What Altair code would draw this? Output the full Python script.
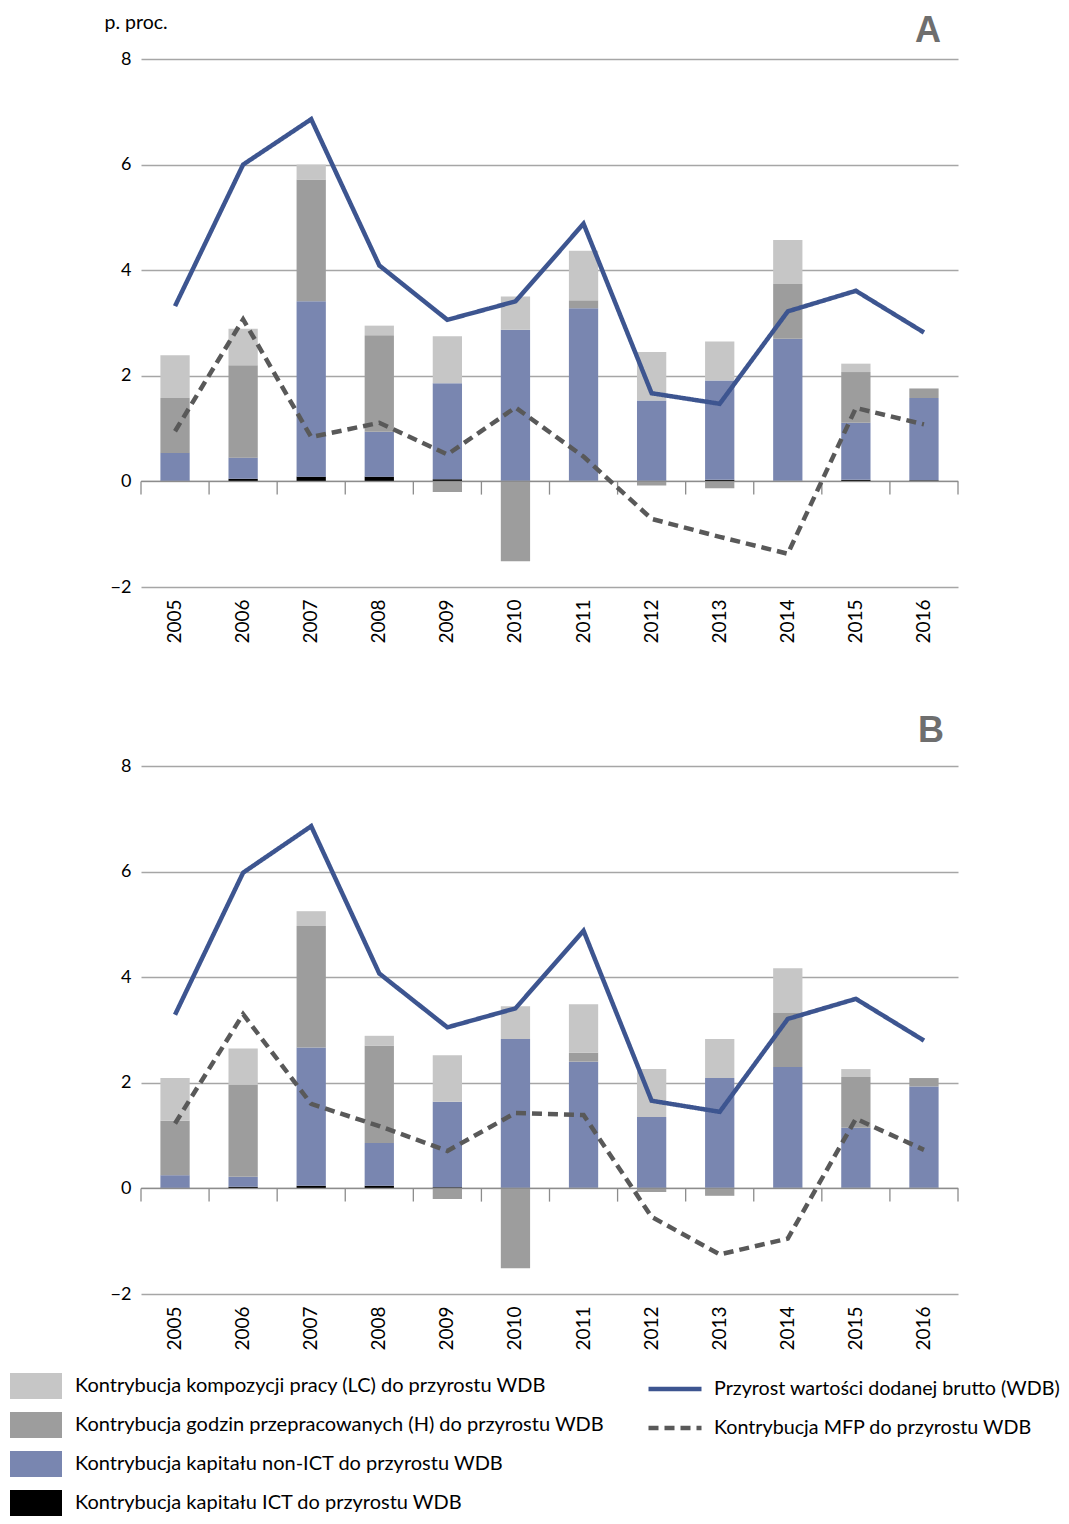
import altair as alt
import pandas as pd

years = [str(y) for y in range(2005, 2017)]
panel_labels = ["A", "B"]
unit_label = "p. proc."

bar_names = [
    "Kontrybucja kompozycji pracy (LC) do przyrostu WDB",
    "Kontrybucja godzin przepracowanych (H) do przyrostu WDB",
    "Kontrybucja kapitału non-ICT do przyrostu WDB",
    "Kontrybucja kapitału ICT do przyrostu WDB",
]
bar_colors = ["#c6c6c6", "#9d9d9d", "#7986b0", "#000000"]
line_names = [
    "Przyrost wartości dodanej brutto (WDB)",
    "Kontrybucja MFP do przyrostu WDB",
]
line_colors = ["#3d5590", "#595959"]

# Panel A
ict_A = [0.01, 0.05, 0.09, 0.09, 0.04, 0.01, 0.01, 0.01, 0.03, 0.01, 0.03, 0.02]
nonict_A = [0.53, 0.40, 3.32, 0.85, 1.82, 2.86, 3.27, 1.52, 1.88, 2.69, 1.08, 1.56]
h_A = [1.04, 1.75, 2.31, 1.83, -0.20, -1.51, 0.15, -0.08, -0.13, 1.04, 0.96, 0.18]
lc_A = [0.81, 0.69, 0.28, 0.18, 0.89, 0.63, 0.94, 0.92, 0.74, 0.83, 0.16, 0.00]
wdb_A = [3.32, 6.00, 6.86, 4.09, 3.06, 3.41, 4.88, 1.67, 1.47, 3.22, 3.61, 2.82]
mfp_A = [0.95, 3.07, 0.84, 1.11, 0.51, 1.40, 0.47, -0.71, -1.05, -1.37, 1.39, 1.08]

# Panel B
ict_B = [0.01, 0.03, 0.05, 0.05, 0.02, 0.01, 0.01, 0.01, 0.01, 0.01, 0.01, 0.01]
nonict_B = [0.24, 0.19, 2.62, 0.81, 1.62, 2.82, 2.39, 1.34, 2.08, 2.29, 1.14, 1.92]
h_B = [1.03, 1.75, 2.30, 1.84, -0.20, -1.51, 0.17, -0.07, -0.14, 1.02, 0.96, 0.16]
lc_B = [0.81, 0.68, 0.28, 0.19, 0.88, 0.62, 0.92, 0.91, 0.74, 0.85, 0.15, 0.00]
wdb_B = [3.29, 5.98, 6.86, 4.07, 3.05, 3.41, 4.88, 1.66, 1.45, 3.21, 3.59, 2.80]
mfp_B = [1.23, 3.30, 1.60, 1.18, 0.71, 1.43, 1.39, -0.54, -1.25, -0.95, 1.32, 0.73]

W = 817
H = 528
FONT = "Lato"


def bars_df(lc, h, nonict, ict):
    rows = []
    for i, y in enumerate(years):
        for ordv, (name, vals) in enumerate(
            [(bar_names[3], ict), (bar_names[2], nonict), (bar_names[1], h), (bar_names[0], lc)]
        ):
            rows.append({"year": y, "series": name, "value": vals[i], "ord": ordv})
    return pd.DataFrame(rows)


def lines_df(wdb, mfp):
    rows = []
    for i, y in enumerate(years):
        rows.append({"year": y, "series": line_names[0], "value": wdb[i]})
        rows.append({"year": y, "series": line_names[1], "value": mfp[i]})
    return pd.DataFrame(rows)


xscale = alt.Scale(domain=years, paddingInner=0, paddingOuter=0)
yscale = alt.Scale(domain=[-2, 8], nice=False)

line_legend = dict(
    title=None, orient="none", legendX=505, legendY=1301,
    symbolType="stroke", symbolSize=2809, symbolStrokeWidth=4.5,
    labelFontSize=19.7, labelFont=FONT, labelColor="#000000",
    labelOffset=10, rowPadding=-13, labelLimit=800,
)


def panel(label, bdf, ldf, first, label_dx, label_y):
    common = dict(
        values=[-2, 0, 2, 4, 6, 8], grid=True, domain=False, ticks=False,
        labelFontSize=18, labelPadding=10, labelColor="#000000", labelFont=FONT,
    )
    if first:
        yaxis = alt.Axis(
            title=unit_label, titleAngle=0, titleAlign="left", titleBaseline="middle",
            titleX=-37, titleY=-37, titleFontSize=19.5, titleFontWeight="normal",
            titleColor="#000000", titleFont=FONT, **common,
        )
    else:
        yaxis = alt.Axis(title=None, **common)
    xaxis = alt.Axis(
        title=None, labelAngle=270, labelFontSize=19, labelPadding=12,
        domain=False, ticks=False, labelColor="#000000", labelFont=FONT,
    )
    bars = alt.Chart(bdf).mark_bar(width=alt.RelativeBandSize(0.43)).encode(
        x=alt.X("year:N", scale=xscale, axis=xaxis),
        y=alt.Y("value:Q", stack="zero", scale=yscale, axis=yaxis),
        fill=alt.Fill(
            "series:N",
            scale=alt.Scale(domain=bar_names, range=bar_colors),
            legend=alt.Legend(
                title=None, orient="none", legendX=-118, legendY=1314,
                symbolType="M-2,-1H2V1H-2Z", symbolSize=676,
                symbolStrokeWidth=0, labelFontSize=20, labelFont=FONT,
                labelColor="#000000", labelOffset=26, rowPadding=13,
                labelLimit=800,
            ),
        ),
        order=alt.Order("ord:Q"),
    )
    ticks_df = pd.DataFrame({"year": years})
    ticks = alt.Chart(ticks_df).mark_rule(color="#8c8c8c", strokeWidth=1.3).encode(
        x=alt.X("year:N", bandPosition=0, scale=xscale),
        y=alt.datum(0),
        y2=alt.datum(-0.25),
    )
    end_tick = alt.Chart(ticks_df.head(1)).mark_rule(color="#8c8c8c", strokeWidth=1.3).encode(
        x=alt.value(W), y=alt.datum(0), y2=alt.datum(-0.25)
    )
    zero = alt.Chart(ticks_df.head(1)).mark_rule(color="#8c8c8c", strokeWidth=1.3).encode(
        y=alt.datum(0)
    )
    lines = alt.Chart(ldf).mark_line(strokeWidth=4.5).encode(
        x=alt.X("year:N", scale=xscale),
        y=alt.Y("value:Q", scale=yscale),
        stroke=alt.Stroke(
            "series:N",
            scale=alt.Scale(domain=line_names, range=line_colors),
            legend=alt.Legend(**line_legend),
        ),
        strokeDash=alt.StrokeDash(
            "series:N",
            scale=alt.Scale(domain=line_names, range=[[1, 0], [10, 6]]),
            legend=alt.Legend(**line_legend),
        ),
    )
    tag = alt.Chart(pd.DataFrame({"t": [label]})).mark_text(
        align="right", baseline="alphabetic", fontSize=36, fontWeight="bold",
        color="#6e6e6e", font="Liberation Sans",
    ).encode(text="t:N", x=alt.value(W + label_dx), y=alt.value(label_y))
    return alt.layer(bars, zero, ticks, end_tick, lines, tag).properties(width=W, height=H)


pa = panel(panel_labels[0], bars_df(lc_A, h_A, nonict_A, ict_A), lines_df(wdb_A, mfp_A), True, -17, -17)
pb = panel(panel_labels[1], bars_df(lc_B, h_B, nonict_B, ict_B), lines_df(wdb_B, mfp_B), False, -14, -24)

chart = alt.vconcat(pa, pb, spacing=69).properties(
    padding={"left": 15, "top": 4, "right": 0, "bottom": 0}
).configure_view(stroke=None).configure_axis(
    gridColor="#a6a6a6", gridWidth=1.3
)

chart.save("out.html", embed_options={"renderer": "svg", "actions": False})
